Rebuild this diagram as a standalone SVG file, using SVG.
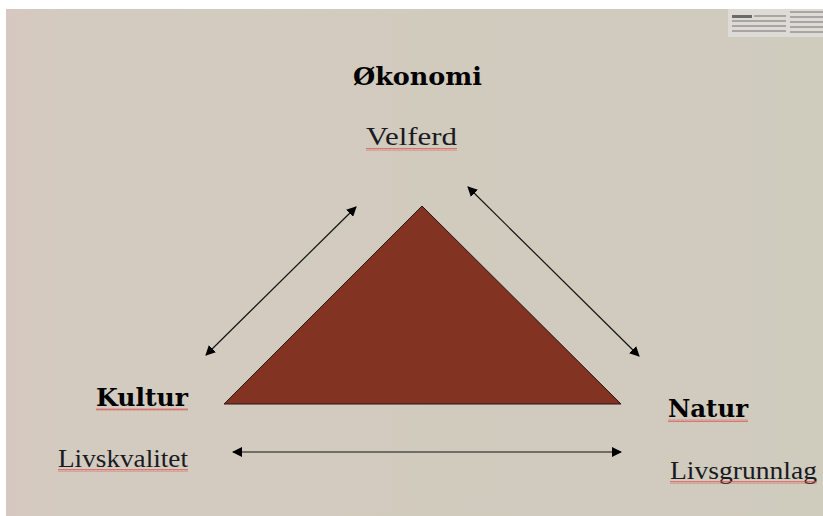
<svg xmlns="http://www.w3.org/2000/svg" width="823" height="516" viewBox="0 0 823 516">
<defs>
<linearGradient id="bg" x1="0" y1="0" x2="1" y2="0">
<stop offset="0" stop-color="#d6c8c0"/>
<stop offset="0.08" stop-color="#d3cbbf"/>
<stop offset="1" stop-color="#cfcbbd"/>
</linearGradient>
<marker id="ah" viewBox="0 0 10 10" refX="9" refY="5" markerWidth="10" markerHeight="10" markerUnits="userSpaceOnUse" orient="auto-start-reverse">
<path d="M0,0 L10,5 L0,10 Z" fill="#000"/>
</marker>
<pattern id="wave" width="4" height="3" patternUnits="userSpaceOnUse">
<path d="M0,2.5 L1,0.5 L2,2.5 L3,0.5 L4,2.5" fill="none" stroke="#e05050" stroke-width="0.7"/>
</pattern>
<style>
.h{font-family:"DejaVu Serif","Liberation Serif",serif;font-weight:bold;font-size:25px;fill:#000}
.s{font-family:"Liberation Serif","DejaVu Serif",serif;font-size:26px;fill:#1a1a22}
.conn{stroke:#111;stroke-width:1.2;fill:none;marker-start:url(#ah);marker-end:url(#ah)}
.np{fill:#a8a6a2}
</style>
</defs>
<rect width="823" height="516" fill="#ffffff"/>
<rect x="6" y="9" width="817" height="507" fill="url(#bg)"/>
<g id="clipping">
<rect x="728" y="9" width="95" height="28" fill="#dedbd6"/>
<rect x="732" y="15" width="20" height="3" fill="#6a6a6a"/>
<rect class="np" x="754" y="15" width="32" height="2"/>
<rect class="np" x="732" y="20" width="54" height="2"/>
<rect class="np" x="732" y="25" width="54" height="2"/>
<rect class="np" x="732" y="30" width="54" height="2"/>
<rect class="np" x="790" y="11" width="33" height="2"/>
<rect class="np" x="790" y="16" width="33" height="2"/>
<rect class="np" x="790" y="21" width="33" height="2"/>
<rect class="np" x="790" y="26" width="33" height="2"/>
<rect class="np" x="790" y="31" width="33" height="2"/>
</g>
<g id="triangle">
<polygon points="422,206 224,404 621,404" fill="#823322" stroke="#2a1410" stroke-width="1"/>
</g>
<g id="okonomi">
<text class="h" x="353" y="85" textLength="129" lengthAdjust="spacingAndGlyphs">Økonomi</text>
<text class="s" x="366" y="145" font-size="24" textLength="91" lengthAdjust="spacingAndGlyphs">Velferd</text>
<rect x="366" y="148" width="91" height="3" fill="url(#wave)"/>
</g>
<g id="kultur">
<text class="h" x="96" y="406" textLength="92" lengthAdjust="spacingAndGlyphs">Kultur</text>
<rect x="96" y="408" width="92" height="3" fill="url(#wave)"/>
<text class="s" x="58" y="467" textLength="130" lengthAdjust="spacingAndGlyphs">Livskvalitet</text>
<rect x="58" y="469" width="130" height="3" fill="url(#wave)"/>
</g>
<g id="natur">
<text class="h" x="668" y="417" textLength="80" lengthAdjust="spacingAndGlyphs">Natur</text>
<rect x="668" y="419" width="80" height="3" fill="url(#wave)"/>
<text class="s" x="670" y="479" textLength="147" lengthAdjust="spacingAndGlyphs">Livsgrunnlag</text>
<rect x="670" y="481" width="147" height="3" fill="url(#wave)"/>
</g>
<g id="connectors">
<line class="conn" x1="206" y1="355" x2="356" y2="207"/>
<line class="conn" x1="468" y1="187" x2="639" y2="356"/>
<line class="conn" x1="233" y1="452" x2="621" y2="452"/>
</g>
</svg>
